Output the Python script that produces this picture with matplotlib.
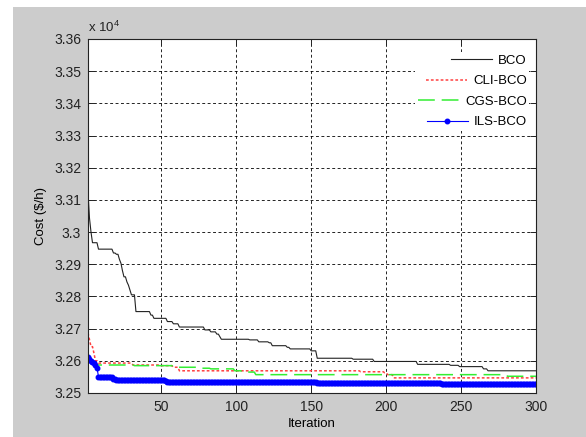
import numpy as np
import matplotlib
matplotlib.use("Agg")
import matplotlib.pyplot as plt
from matplotlib.patches import Rectangle
from matplotlib.ticker import FuncFormatter

plt.rcParams['font.family'] = ['Liberation Sans', 'DejaVu Sans']
plt.rcParams['mathtext.fontset'] = 'custom'
plt.rcParams['mathtext.rm'] = 'Liberation Sans'

# best cost so far ($/h): iteration where the value changes -> new value
n_iter = 300

bco_it = [1, 2, 3, 4, 8, 18, 20, 22, 23, 24, 25, 27, 28, 29, 30, 33, 43, 45, 54, 58,
          62, 79, 83, 87, 89, 90, 109, 115, 122, 124, 134, 136, 150, 154, 178, 192,
          221, 243, 249, 265, 268]
bco_cost = [33125, 33043, 33000, 32967, 32947, 32935, 32931, 32915, 32903, 32880,
            32861, 32845, 32835, 32820, 32805, 32753, 32742, 32732, 32722, 32715,
            32705, 32696, 32690, 32683, 32675, 32667, 32665, 32659, 32656, 32647,
            32642, 32637, 32631, 32608, 32605, 32598, 32589, 32586, 32582, 32575,
            32569]

cli_it = [1, 2, 3, 5, 6, 8, 31, 50, 58, 62, 183, 199, 201, 205]
cli_cost = [32687, 32665, 32644, 32623, 32600, 32593, 32587, 32585, 32580, 32569,
            32566, 32563, 32557, 32547]

cgs_it = [1, 3, 5, 7, 32, 58, 75, 83, 99, 104, 113, 281]
cgs_cost = [32605, 32600, 32594, 32587, 32585, 32580, 32577, 32575, 32569, 32565,
            32557, 32552]

ils_it = [1, 2, 3, 4, 5, 6, 7, 8, 17, 18, 20, 53, 54, 154, 237]
ils_cost = [32613, 32606, 32598, 32595, 32592, 32588, 32578, 32551, 32549, 32545,
            32540, 32537, 32535, 32532, 32528]

labels = ['BCO', 'CLI-BCO', 'CGS-BCO', 'ILS-BCO']


def per_iteration(change_it, cost):
    # the cost is held until the next improvement
    it = np.arange(1, n_iter + 1)
    idx = np.searchsorted(change_it, it, side='right') - 1
    return it, np.array(cost)[idx]


fig = plt.figure(figsize=(5.86, 4.37), dpi=100, facecolor='white')
fig.patches.append(Rectangle((13 / 586, 0), 1 - 13 / 586, 1 - 7 / 437,
                             transform=fig.transFigure, facecolor='#cccccc',
                             edgecolor='none', zorder=-10))
ax = fig.add_axes([88 / 586, 44 / 437, 448 / 586, 354 / 437])
ax.set_facecolor('white')

x, y = per_iteration(bco_it, bco_cost)
ax.plot(x, y, color='#222222', lw=0.8, label=labels[0])
x, y = per_iteration(cli_it, cli_cost)
ax.plot(x, y, color='#ff4040', lw=1.1, dashes=(1.8, 1.4), label=labels[1])
x, y = per_iteration(cgs_it, cgs_cost)
ax.plot(x, y, color='#33ee33', lw=1.1, dashes=(11, 4.5), label=labels[2])
x, y = per_iteration(ils_it, ils_cost)
ax.plot(x, y, color='#0000ff', lw=0.8, marker='.', ms=6.5, label=labels[3])

ax.set_xlim(1, 300)
ax.set_ylim(32500, 33600)
ax.set_xticks([50, 100, 150, 200, 250, 300])
ax.set_yticks(np.arange(32500, 33601, 100))
ax.yaxis.set_major_formatter(FuncFormatter(lambda v, p: f'{v / 1e4:g}'))
ax.tick_params(direction='in', length=4, width=0.7, top=True, right=True,
               labelsize=10, colors='#222222', pad=5)
ax.grid(True, color='black', lw=0.6, linestyle=(0, (3.5, 3)))
for s in ax.spines.values():
    s.set_linewidth(0.8)
    s.set_color('#222222')

ax.text(0, 1.012, r'x 10$^{\mathrm{4}}$', transform=ax.transAxes, ha='left',
        va='bottom', fontsize=9.5, color='#222222')
ax.set_xlabel('Iteration', fontsize=9.5, labelpad=3)
ax.set_ylabel('Cost ($/h)', fontsize=9.5, labelpad=5)

leg = ax.legend(loc='upper right', bbox_to_anchor=(0.985, 0.963), borderaxespad=0,
                fontsize=9.5, frameon=True, facecolor='white', edgecolor='none',
                framealpha=1, fancybox=False, borderpad=0.2, labelspacing=0.62,
                handlelength=3.1, handletextpad=0.45)
leg._legend_handle_box.get_children()[0].align = 'right'

fig.savefig('out.png', dpi=100, facecolor=fig.get_facecolor())
